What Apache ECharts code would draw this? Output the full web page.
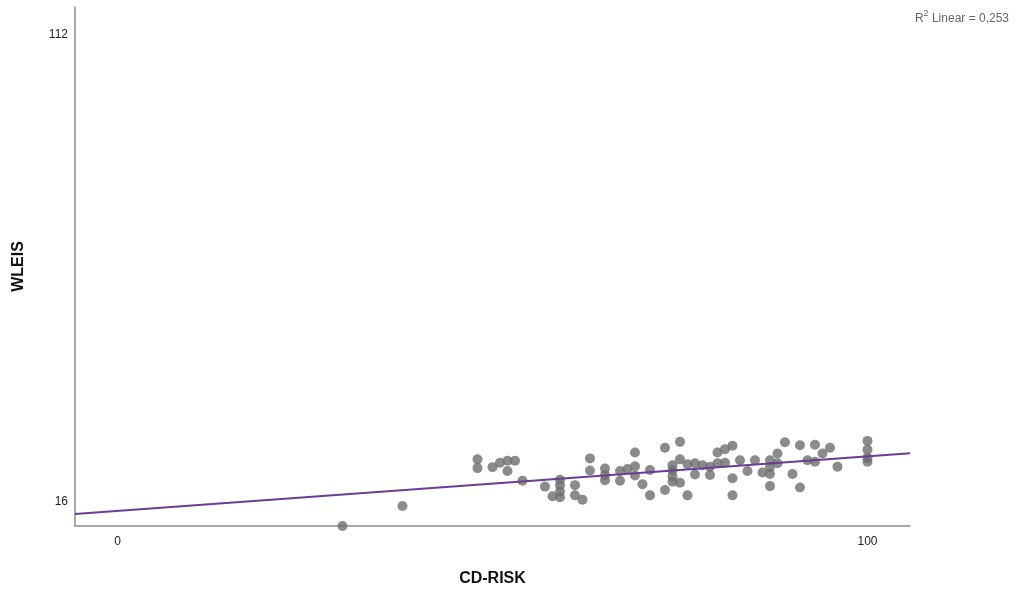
<!DOCTYPE html>
<html>
<head>
<meta charset="utf-8">
<script src="https://cdn.jsdelivr.net/npm/echarts@6/dist/echarts.min.js"></script>
<style>html,body{margin:0;padding:0;background:#fff}#c{width:1018px;height:592px}</style>
</head>
<body>
<div id="c"></div>
<script>
// CD-RISK (x) values
var cdRisk = [30,38,48,48,50,51,52,52,53,54,57,58,59,59,59,59,61,61,62,63,63,65,65,65,67,67,68,69,69,69,70,71,71,73,73,74,74,74,74,75,75,75,76,76,77,77,78,79,79,80,80,81,81,82,82,82,83,84,85,86,87,87,87,87,88,88,89,90,91,91,92,93,93,94,95,96,100,100,100,100];
// WLEIS (y) values
var wleis = [10.9,15.0,24.6,22.8,23.0,23.9,24.3,22.2,24.3,20.2,19.0,17.0,20.4,19.3,18.0,16.8,19.3,17.2,16.3,24.8,22.3,22.7,21.4,20.3,22.2,20.2,22.6,26.0,23.2,21.3,19.5,22.4,17.2,27.0,18.3,23.4,22.3,21.1,20.0,28.2,24.6,19.8,23.6,17.2,23.8,21.5,23.4,23.1,21.4,26.0,23.8,26.7,23.9,27.4,20.7,17.2,24.4,22.2,24.4,21.9,24.4,23.0,21.6,19.1,25.8,23.8,28.1,21.6,27.5,18.8,24.4,27.6,24.1,25.8,27.0,23.1,28.4,26.6,24.9,24.1];
var xTicks = [0, 100];
var yTicks = [16, 112];
var xRange = [-5.67, 105.67];
var yRange = [10.9, 117.6];
// fitted line: WLEIS = intercept + slope * CD-RISK
var regIntercept = 13.98;
var regSlope = 0.1123;

var pts = cdRisk.map(function (x, i) { return [x, wleis[i]]; });
var fitLine = xRange.map(function (x) { return [x, regIntercept + regSlope * x]; });

var chart = echarts.init(document.getElementById('c'), null, {renderer: 'canvas'});
var font = 'Liberation Sans, Arial, sans-serif';
chart.setOption({
  backgroundColor: '#ffffff',
  animation: false,
  grid: {left: 75, right: 108, top: 7, bottom: 64, containLabel: false},
  title: {
    text: '{a|R}{s|2}{a| Linear = 0,253}',
    right: 4, top: 4,
    textStyle: {
      fontWeight: 'normal',
      rich: {
        a: {fontFamily: font, fontSize: 12, fontWeight: 'normal', color: '#666666', lineHeight: 16, verticalAlign: 'bottom'},
        s: {fontFamily: font, fontSize: 9, fontWeight: 'normal', color: '#666666', lineHeight: 16, verticalAlign: 'top', padding: [0, 0, 5, 0]}
      }
    }
  },
  xAxis: {
    type: 'value', min: xRange[0], max: xRange[1],
    name: 'CD-RISK', nameLocation: 'middle', nameGap: 45,
    nameTextStyle: {fontFamily: font, fontSize: 16, fontWeight: 'bold', color: '#111'},
    axisLine: {show: true, onZero: false, lineStyle: {color: '#8c8c8c', width: 1.5}},
    axisTick: {show: false},
    splitLine: {show: false},
    axisLabel: {customValues: xTicks, fontFamily: font, fontSize: 12, color: '#222', margin: 10}
  },
  yAxis: {
    type: 'value', min: yRange[0], max: yRange[1],
    name: 'WLEIS', nameLocation: 'middle', nameGap: 48, nameRotate: 90,
    nameTextStyle: {fontFamily: font, fontSize: 16, fontWeight: 'bold', color: '#111'},
    axisLine: {show: true, onZero: false, lineStyle: {color: '#8c8c8c', width: 1.5}},
    axisTick: {show: false},
    splitLine: {show: false},
    axisLabel: {customValues: yTicks, fontFamily: font, fontSize: 12, color: '#222', margin: 7}
  },
  series: [
    {
      type: 'scatter', data: pts, symbol: 'circle', symbolSize: 10, clip: true,
      itemStyle: {color: '#6e6e6e'}, z: 2
    },
    {
      type: 'line', data: fitLine, symbol: 'none', clip: true,
      lineStyle: {color: '#6a3d96', width: 2}, z: 3
    }
  ]
});
</script>
</body>
</html>
